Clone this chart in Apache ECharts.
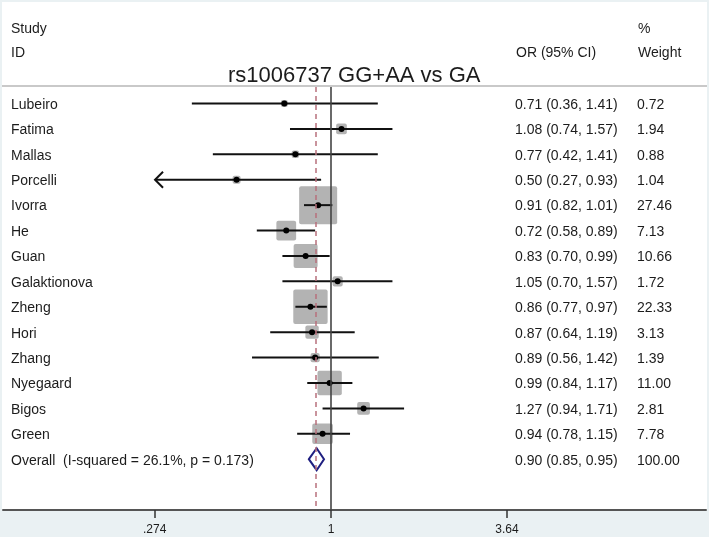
<!DOCTYPE html>
<html>
<head>
<meta charset="utf-8">
<script src="https://cdn.jsdelivr.net/npm/echarts@6/dist/echarts.min.js"></script>
<style>
html,body{margin:0;padding:0;background:#eaf1f3;}
#chart{width:709px;height:537px;}
</style>
</head>
<body>
<div id="chart"></div>
<script>
// ---- data ----
const studies = ['Lubeiro','Fatima','Mallas','Porcelli','Ivorra','He','Guan','Galaktionova','Zheng','Hori','Zhang','Nyegaard','Bigos','Green'];
const orValues = [0.71,1.08,0.77,0.50,0.91,0.72,0.83,1.05,0.86,0.87,0.89,0.99,1.27,0.94];
const ciLow    = [0.36,0.74,0.42,0.27,0.82,0.58,0.70,0.70,0.77,0.64,0.56,0.84,0.94,0.78];
const ciHigh   = [1.41,1.57,1.41,0.93,1.01,0.89,0.99,1.57,0.97,1.19,1.42,1.17,1.71,1.15];
const weights  = [0.72,1.94,0.88,1.04,27.46,7.13,10.66,1.72,22.33,3.13,1.39,11.00,2.81,7.78];
const overallLabel = 'Overall  (I-squared = 26.1%, p = 0.173)';
const overallOR = 0.90, overallLow = 0.85, overallHigh = 0.95, overallWeight = 100.00;
const tickValues = [0.274, 1, 3.64];
const tickLabels = ['.274', '1', '3.64'];
const titleText = 'rs1006737 GG+AA vs GA';

// ---- chart ----
const chart = echarts.init(document.getElementById('chart'));
const clipMin = 1 / 3.64;
const FONT = '"Liberation Sans", Arial, sans-serif';
const TXT = '#1c1c1c';

const rows = studies.map((s, i) => [i, orValues[i], ciLow[i], ciHigh[i], weights[i], 0]);
rows.push([studies.length, overallOR, overallLow, overallHigh, overallWeight, 1]);
const names = studies.concat([overallLabel]);

function fmt(v){ return v.toFixed(2); }

function renderItem(params, api) {
  const idx = params.dataIndex;
  const i = api.value(0), or = api.value(1), lo = api.value(2), hi = api.value(3), w = api.value(4), isOverall = api.value(5);
  const c = api.coord([Math.log(or), i]);
  const y = c[1];
  const xl = api.coord([Math.log(Math.max(lo, clipMin)), i])[0];
  const xh = api.coord([Math.log(hi), i])[0];
  const children = [];
  if (isOverall) {
    children.push({type:'polygon', shape:{points:[[xl,y],[c[0],y-11],[xh,y],[c[0],y+11]]},
      style:{fill:'#fff', stroke:'#1f1f80', lineWidth:2}});
  } else {
    const side = 7.1 * Math.sqrt(w) + 0.8;
    children.push({type:'rect', shape:{x:c[0]-side/2, y:y-side/2, width:side, height:side, r:2},
      style:{fill:'#b3b3b3'}});
    children.push({type:'line', shape:{x1:xl, y1:y, x2:xh, y2:y}, style:{stroke:'#111', lineWidth:2}});
    if (lo < clipMin) {
      children.push({type:'polyline', shape:{points:[[xl+8,y-8],[xl,y],[xl+8,y+8]]}, style:{stroke:'#111', lineWidth:2, fill:null}});
    }
    children.push({type:'circle', shape:{cx:c[0], cy:y, r:3}, style:{fill:'#000'}});
  }
  const ty = y + 1.5;
  const ts = {fill:TXT, fontSize:14, fontFamily:FONT, verticalAlign:'middle', align:'left'};
  children.push({type:'text', x:11, y:ty, style:Object.assign({text:names[idx]}, ts)});
  children.push({type:'text', x:515, y:ty, style:Object.assign({text:fmt(or)+' ('+fmt(lo)+', '+fmt(hi)+')'}, ts)});
  children.push({type:'text', x:637, y:ty, style:Object.assign({text:fmt(w)}, ts)});
  return {type:'group', children};
}

const option = {
  backgroundColor: '#eaf1f3',
  animation: false,
  title: {text: titleText, left: 223, top: 60,
    textStyle:{fontSize:22, fontWeight:'normal', color:TXT, fontFamily:FONT}},
  grid: {left: 3, right: 3, top: 87, bottom: 27},
  xAxis: {
    type: 'value', min: (3-331)/136.2, max: (706-331)/136.2,
    splitLine:{show:false},
    axisLine:{onZero:false, lineStyle:{color:'#555', width:2}},
    axisTick:{customValues: tickValues.map(v => Math.log(v)), length:8, lineStyle:{color:'#333', width:1.5}},
    axisLabel:{customValues: tickValues.map(v => Math.log(v)), margin:14, fontSize:12, color:TXT, fontFamily:FONT,
      formatter: function(v){
        let best = 0, d = 1e9;
        tickValues.forEach((t,k)=>{ const dd = Math.abs(Math.log(t)-v); if (dd<d){d=dd;best=k;} });
        return tickLabels[best];
      }}
  },
  yAxis: {type:'value', inverse:true, min:-0.65, max:16.0, show:false, axisLine:{onZero:false}},
  graphic: [
    {type:'rect', shape:{x:2, y:2, width:705, height:508}, style:{fill:'#fff'}, z:-10, silent:true},
    {type:'line', shape:{x1:2, y1:86, x2:707, y2:86}, style:{stroke:'#c9c9c9', lineWidth:2}, z:1},
    {type:'text', x:11, y:29, style:{text:'Study', fill:TXT, fontSize:14, fontFamily:FONT, verticalAlign:'middle'}},
    {type:'text', x:11, y:53, style:{text:'ID', fill:TXT, fontSize:14, fontFamily:FONT, verticalAlign:'middle'}},
    {type:'text', x:516, y:53, style:{text:'OR (95% CI)', fill:TXT, fontSize:14, fontFamily:FONT, verticalAlign:'middle'}},
    {type:'text', x:638, y:29, style:{text:'%', fill:TXT, fontSize:14, fontFamily:FONT, verticalAlign:'middle'}},
    {type:'text', x:638, y:53, style:{text:'Weight', fill:TXT, fontSize:14, fontFamily:FONT, verticalAlign:'middle'}}
  ],
  series: [
    {
      type:'line', data:[], silent:true, z:1,
      markLine:{symbol:'none', silent:true, label:{show:false},
        data:[
          {xAxis: Math.log(1), lineStyle:{color:'#444', width:1.6, type:'solid'}},
          {xAxis: Math.log(overallOR), lineStyle:{color:'#b8707c', width:1.5, type:[5,4]}}
        ]}
    },
    {type:'custom', renderItem, data: rows, clip:false, z:3,
      encode:{x:1, y:0}}
  ]
};
chart.setOption(option);
</script>
</body>
</html>
